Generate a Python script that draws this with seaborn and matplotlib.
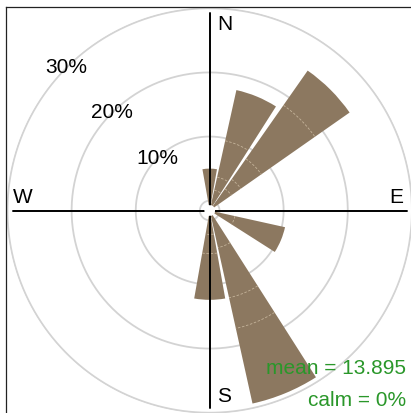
import numpy as np
import matplotlib
matplotlib.use("Agg")
import matplotlib.pyplot as plt
import seaborn as sns

# wind direction sectors (degrees) and frequency (%)
directions = [0, 22.5, 45, 112.5, 157.5, 180]
frequency = [5.0, 17.7, 25.1, 10.5, 29.3, 12.4]
# cumulative frequency at the internal (wind speed) breaks of each wedge
breaks = [[], [1.7, 3.8, 9.6], [2.6, 4.4, 8.3, 18.5], [2.5], [4.4, 12.4, 17.3], [2.2, 5.2]]
grid_levels = [10, 20, 30]
grid_labels = ["10%", "20%", "30%"]
mean_ws = 13.895
calm = 0

sns.set_style("white")
plt.rcParams['font.family'] = ['Liberation Sans', 'DejaVu Sans']
plt.rcParams['text.color'] = 'black'

W, H = 411, 413
fig = plt.figure(figsize=(W / 100, H / 100), dpi=100)
box = [6 / W, (H - 414) / H, 407.4 / W, 407 / H]

frame = fig.add_axes(box)
frame.set_xlim(0, 1)
frame.set_ylim(0, 1)
frame.set_xticks([])
frame.set_yticks([])
for s in frame.spines.values():
    s.set_color("#222222")
    s.set_linewidth(0.9)

ax = fig.add_axes(box, projection="polar")
ax.set_theta_zero_location("N")
ax.set_theta_direction(-1)
ax.set_ylim(-0.7, 30.2)
ax.set_rorigin(-1.53)
ax.axis("off")

theta = np.linspace(0, 2 * np.pi, 400)
for r in [0] + grid_levels:
    ax.plot(theta, np.full_like(theta, r), color="#d3d3d3", lw=1.3, zorder=1)

# wedges start a little inside the zero ring
base = -0.7
width = np.deg2rad(20)
ax.bar(np.deg2rad(directions), np.array(frequency) - base, width=width, bottom=base,
       color="#8c7860", edgecolor="none", zorder=2)

for d, br in zip(directions, breaks):
    t = np.linspace(np.deg2rad(d) - width / 2, np.deg2rad(d) + width / 2, 30)
    for b in br:
        ax.plot(t, np.full_like(t, b), color="#c4b39a", lw=0.6, ls=(0, (3, 2)), zorder=3)

rc = 29.2
ax.plot([0, np.pi], [rc, rc], color="black", lw=1.4, zorder=4)
ax.plot([np.pi / 2, 3 * np.pi / 2], [rc, rc], color="black", lw=1.4, zorder=4)

fs = 15
for lv, lab in zip(grid_levels, grid_labels):
    ax.text(np.deg2rad(315), lv, lab, ha="center", va="center", fontsize=fs, zorder=5)

frame.text(0.518, 0.958, "N", ha="left", va="center", fontsize=fs)
frame.text(0.518, 0.042, "S", ha="left", va="center", fontsize=fs)
frame.text(0.016, 0.531, "W", ha="left", va="center", fontsize=fs)
frame.text(0.974, 0.531, "E", ha="right", va="center", fontsize=fs)

green = "#2a972a"
frame.text(0.982, 0.111, f"mean = {mean_ws}", ha="right", va="center",
           fontsize=fs, color=green, zorder=6)
frame.text(0.982, 0.032, f"calm = {calm}%", ha="right", va="center",
           fontsize=fs, color=green, zorder=6)
frame.set_zorder(ax.get_zorder() + 1)
frame.patch.set_alpha(0)

fig.savefig("out.png", dpi=100)
